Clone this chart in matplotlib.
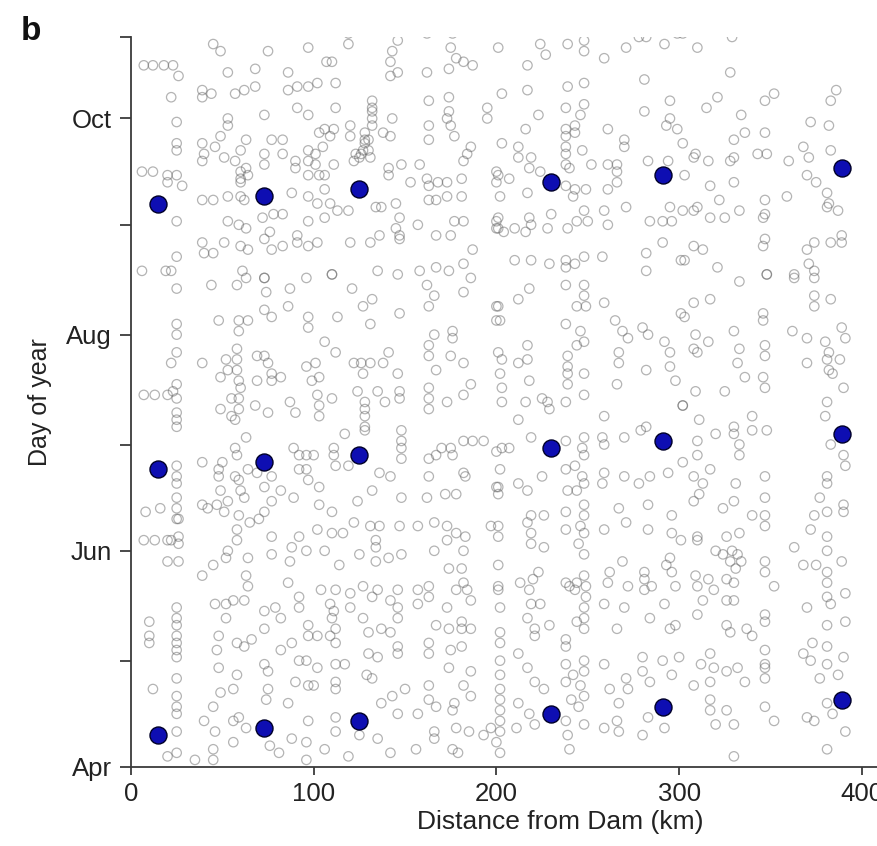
import matplotlib
matplotlib.use("Agg")
import matplotlib.pyplot as plt
from matplotlib.ticker import FixedLocator

plt.rcParams['font.family'] = ['Liberation Sans', 'DejaVu Sans']

# day-of-year tick marks (labelled every second month)
month_days = [91, 152, 213, 274]
month_labels = ['Apr', 'Jun', 'Aug', 'Oct']
minor_days = [121, 182, 244, 297]
km_ticks = [0, 100, 200, 300, 400]

# mean dates at each site (blue dots): spring, summer, autumn
site_km = [15, 73, 125, 230, 291, 389]
spring_day = [100, 102, 104, 106, 108, 110]
summer_day = [175, 177, 179, 181, 183, 185]
autumn_day = [250, 252, 254, 256, 258, 260]

gray_late = [
    (7, 289), (12, 289), (18, 289), (23, 289), (26, 286), (45, 295), (49, 293), (75, 293), (97, 294),
    (53, 287), (68, 288), (86, 287), (22, 280), (39, 282), (39, 280), (44, 281), (57, 281), (62, 282),
    (68, 283), (86, 282), (91, 283), (97, 283), (25, 273), (53, 274), (53, 272), (73, 275), (91, 277),
    (97, 275), (25, 267), (25, 265), (39, 267), (46, 266), (49, 269), (40, 264), (39, 262), (51, 263),
    (57, 262), (60, 265), (63, 268), (63, 260), (64, 258), (60, 259), (60, 257), (60, 256), (73, 264),
    (77, 268), (83, 268), (83, 264), (73, 261), (90, 262), (90, 260), (97, 265), (97, 262), (97, 258),
    (6, 259), (12, 259), (20, 258), (20, 256), (25, 258), (28, 255), (39, 251), (45, 251), (53, 252),
    (60, 252), (62, 251), (88, 253), (97, 252), (25, 245), (53, 245), (59, 244), (63, 243), (72, 246),
    (78, 247), (83, 247), (73, 240), (76, 242), (91, 241), (97, 245), (39, 239), (40, 236), (45, 236),
    (51, 239), (60, 238), (64, 237), (77, 237), (83, 238), (91, 239), (97, 238), (25, 235), (6, 231),
    (19, 231), (22, 231), (61, 231), (73, 229),
    (119, 298), (119, 295), (146, 296), (162, 298), (176, 298), (107, 290), (110, 290), (142, 290),
    (143, 293), (175, 294), (178, 291), (182, 290), (187, 289), (174, 288), (102, 284), (112, 284),
    (142, 286), (146, 287), (162, 287), (132, 279), (132, 277), (132, 276), (132, 274), (132, 272),
    (112, 277), (143, 274), (163, 279), (174, 280), (174, 276), (173, 274), (175, 272), (195, 277),
    (195, 274), (106, 271), (111, 271), (109, 269), (103, 270), (120, 272), (120, 269), (128, 270),
    (128, 268), (128, 267), (127, 265), (126, 264), (125, 263), (123, 264), (122, 262), (130, 268),
    (130, 265), (131, 263), (138, 270), (142, 269), (163, 272), (163, 268), (177, 269), (186, 266),
    (184, 264), (182, 262), (101, 264), (105, 266), (111, 261), (101, 261), (106, 258), (103, 258),
    (141, 260), (141, 258), (148, 261), (153, 256), (158, 261), (162, 257), (163, 255), (168, 256),
    (173, 256), (181, 257), (200, 259), (200, 256), (106, 254), (102, 250), (109, 250), (106, 246),
    (113, 248), (119, 248), (134, 249), (137, 249), (145, 250), (147, 246), (145, 243), (147, 241),
    (147, 240), (157, 244), (167, 241), (175, 241), (177, 245), (182, 245), (163, 251), (167, 251),
    (173, 252), (181, 252), (102, 239), (120, 239), (131, 239), (136, 241), (187, 237), (110, 230),
    (135, 231), (146, 230), (158, 231), (167, 232), (174, 231), (182, 233), (200, 245), (200, 243),
    (201, 294), (212, 299), (224, 295), (227, 292), (239, 295), (248, 296), (248, 293), (259, 291),
    (271, 294), (278, 297), (282, 297), (292, 295), (299, 298), (217, 289), (203, 281), (217, 282),
    (239, 283), (248, 284), (281, 285), (295, 279), (223, 275), (216, 271), (238, 277), (248, 278),
    (246, 275), (238, 271), (243, 272), (243, 270), (238, 269), (261, 271), (281, 276), (295, 274),
    (293, 272), (299, 271), (238, 266), (238, 264), (247, 265), (238, 261), (240, 260), (203, 267),
    (212, 266), (212, 263), (270, 268), (270, 266), (252, 261), (261, 261), (266, 261), (266, 259),
    (219, 263), (218, 260), (224, 259), (217, 253), (201, 258), (207, 257), (202, 252), (283, 262),
    (294, 262), (238, 255), (243, 254), (242, 252), (249, 254), (261, 254), (266, 256), (230, 247),
    (248, 248), (259, 248), (271, 249), (218, 246), (219, 244), (201, 246), (201, 243), (204, 242),
    (210, 243), (216, 242), (228, 243), (239, 243), (244, 245), (250, 245), (261, 244), (284, 245),
    (291, 245), (296, 245), (295, 249), (302, 248), (210, 234), (219, 234), (229, 233), (238, 234),
    (243, 233), (248, 235), (258, 235), (238, 232), (282, 236), (291, 239), (301, 234), (282, 231),
    (302, 298), (310, 294), (329, 297), (328, 287), (381, 299), (315, 277), (321, 280), (334, 275),
    (347, 279), (352, 281), (386, 282), (383, 279), (372, 273), (382, 272), (383, 265), (330, 268),
    (336, 270), (347, 270), (343, 264), (348, 264), (360, 262), (302, 267), (309, 264), (308, 263),
    (316, 262), (328, 262), (330, 263), (368, 266), (371, 263), (303, 258), (317, 255), (330, 256),
    (370, 258), (375, 256), (381, 253), (382, 250), (381, 249), (387, 248), (359, 252), (310, 249),
    (308, 248), (317, 246), (325, 246), (322, 251), (333, 248), (347, 251), (347, 247), (346, 246),
    (308, 238), (313, 237), (303, 234), (321, 232), (346, 238), (347, 240), (348, 230), (370, 237),
    (374, 239), (371, 233), (374, 231), (383, 239), (389, 241), (389, 239), (363, 230),
]

gray_mid = [
    (25, 226), (44, 227), (58, 227), (63, 229), (73, 229), (74, 225), (87, 226), (96, 229),
    (25, 216), (25, 213), (25, 208), (22, 205), (39, 205), (48, 217), (59, 217), (64, 217),
    (59, 214), (73, 220), (77, 218), (86, 221), (97, 218), (97, 215), (58, 209), (58, 206),
    (52, 206), (53, 203), (69, 207), (73, 207), (75, 205), (77, 202), (77, 200), (82, 201),
    (96, 204), (99, 200), (49, 201), (58, 203), (59, 200), (60, 198), (69, 200), (55, 195),
    (59, 195), (59, 192), (7, 196), (13, 196), (20, 196), (23, 197), (25, 199), (25, 195),
    (25, 191), (25, 189), (25, 187), (49, 192), (55, 190), (57, 189), (68, 193), (75, 191),
    (87, 194), (90, 191), (63, 184), (57, 181), (58, 179), (50, 177), (39, 177), (25, 176),
    (25, 173), (25, 171), (25, 167), (25, 164), (25, 161), (48, 175), (48, 173), (49, 169),
    (47, 165), (53, 166), (51, 163), (57, 173), (59, 172), (60, 169), (62, 167), (59, 162),
    (64, 175), (69, 174), (89, 181), (92, 179), (96, 179), (92, 175), (96, 175), (97, 172),
    (82, 169), (77, 166), (89, 167), (73, 170), (77, 173), (8, 163), (16, 164), (39, 165),
    (42, 164), (73, 163), (70, 161),
    (110, 230), (121, 226), (132, 223), (127, 221), (113, 218), (131, 216), (147, 219), (162, 227),
    (166, 224), (163, 221), (182, 225), (186, 229), (200, 221), (200, 217), (106, 211), (112, 208),
    (122, 205), (126, 205), (131, 205), (138, 205), (141, 208), (103, 201), (101, 205), (127, 202),
    (135, 197), (146, 202), (147, 197), (147, 195), (139, 194), (166, 213), (163, 210), (163, 207),
    (167, 203), (163, 198), (163, 195), (163, 192), (176, 214), (176, 212), (175, 207), (182, 205),
    (186, 199), (182, 196), (173, 194), (102, 196), (110, 195), (103, 193), (103, 190), (124, 197),
    (128, 194), (128, 192), (128, 190), (128, 187), (128, 186), (117, 185), (148, 186), (148, 183),
    (148, 181), (148, 178), (136, 174), (142, 173), (111, 181), (111, 179), (112, 176), (119, 176),
    (100, 179), (163, 178), (167, 179), (170, 181), (175, 181), (176, 179), (182, 183), (187, 183),
    (193, 183), (182, 174), (183, 173), (178, 168), (163, 173), (162, 167), (172, 168), (148, 167),
    (132, 169), (124, 166), (110, 163), (103, 165), (103, 170), (200, 180), (200, 170),
    (201, 221), (202, 217), (201, 208), (203, 206), (202, 202), (203, 198), (212, 223), (218, 226),
    (217, 210), (217, 206), (212, 205), (218, 200), (238, 227), (248, 227), (248, 224), (244, 221),
    (249, 221), (238, 216), (246, 214), (248, 211), (244, 210), (239, 207), (239, 204), (239, 202),
    (239, 199), (248, 202), (248, 196), (238, 194), (259, 222), (265, 217), (269, 214), (272, 212),
    (267, 208), (267, 205), (266, 199), (259, 190), (280, 215), (283, 213), (292, 211), (295, 208),
    (295, 204), (282, 203), (298, 200), (301, 219), (302, 193), (203, 194), (216, 194), (225, 195),
    (228, 194), (229, 192), (212, 189), (203, 181), (207, 181), (219, 184), (238, 183), (248, 184),
    (247, 181), (248, 179), (258, 184), (259, 182), (270, 184), (279, 186), (282, 187), (202, 175),
    (225, 173), (238, 175), (243, 176), (247, 173), (259, 174), (270, 173), (278, 171), (284, 173),
    (294, 174), (201, 170), (201, 168), (212, 171), (217, 169), (239, 169), (244, 169), (248, 171),
    (258, 171), (248, 165), (219, 162), (226, 162), (238, 163), (248, 162), (267, 164), (283, 165),
    (296, 162),
    (333, 228), (348, 230), (363, 229), (374, 229), (374, 224), (374, 221), (383, 223), (308, 222),
    (317, 223), (303, 218), (309, 213), (308, 209), (310, 208), (316, 211), (330, 214), (346, 219),
    (346, 217), (347, 210), (347, 207), (333, 209), (332, 205), (336, 201), (346, 201), (347, 198),
    (362, 214), (370, 212), (370, 205), (380, 211), (382, 208), (381, 206), (382, 203), (389, 215),
    (391, 212), (388, 206), (384, 202), (390, 198), (309, 197), (325, 197), (302, 193), (311, 189),
    (320, 185), (330, 187), (330, 185), (340, 190), (340, 186), (348, 186), (333, 182), (333, 179),
    (381, 194), (380, 190), (383, 182), (390, 179), (391, 176), (310, 183), (310, 179), (302, 177),
    (308, 173), (313, 171), (317, 175), (311, 168), (308, 166), (324, 164), (330, 166), (331, 171),
    (347, 173), (347, 167), (340, 162), (347, 162), (381, 173), (381, 171), (377, 167), (374, 162),
    (381, 163), (390, 165), (390, 163),
]

gray_early = [
    (7, 155), (13, 155), (20, 155), (22, 155), (26, 154), (26, 156), (26, 161), (20, 149), (26, 149),
    (39, 145), (45, 148), (58, 158), (58, 155), (65, 160), (53, 152), (52, 150), (64, 150), (63, 145),
    (77, 156), (77, 151), (88, 153), (87, 149), (86, 143), (92, 156), (96, 152), (25, 136), (25, 133),
    (25, 131), (25, 128), (25, 126), (25, 124), (25, 122), (10, 132), (10, 128), (10, 126), (46, 137),
    (52, 137), (56, 138), (62, 138), (64, 142), (52, 133), (48, 128), (47, 124), (58, 126), (62, 125),
    (73, 135), (79, 136), (82, 133), (73, 130), (66, 127), (73, 120), (75, 118), (82, 124), (88, 126),
    (92, 136), (92, 139), (97, 131), (97, 128), (92, 121), (96, 121), (90, 115), (97, 114), (25, 116),
    (25, 111), (25, 108), (25, 106), (25, 101), (25, 95), (12, 113), (20, 94), (48, 119), (58, 117),
    (49, 112), (56, 113), (45, 108), (56, 104), (59, 105), (46, 101), (40, 104), (35, 93), (45, 96),
    (45, 93), (56, 98), (75, 113), (74, 110), (86, 109), (63, 102), (76, 97), (81, 95), (88, 99),
    (97, 104), (96, 98), (96, 93),
    (102, 158), (110, 157), (116, 157), (122, 160), (131, 159), (136, 159), (147, 159), (157, 159),
    (166, 160), (173, 159), (183, 156), (197, 159), (106, 152), (114, 148), (125, 151), (134, 155),
    (134, 153), (134, 149), (141, 150), (148, 151), (166, 152), (173, 155), (178, 157), (182, 152),
    (174, 147), (181, 147), (104, 141), (112, 141), (120, 140), (127, 142), (132, 139), (135, 141),
    (146, 141), (157, 141), (163, 142), (163, 139), (178, 141), (182, 143), (184, 141), (186, 138),
    (109, 137), (111, 135), (110, 133), (112, 130), (102, 128), (109, 128), (112, 126), (120, 136),
    (127, 133), (142, 138), (146, 136), (146, 133), (157, 137), (173, 136), (130, 129), (137, 130),
    (142, 129), (146, 125), (146, 123), (130, 123), (135, 122), (163, 126), (163, 123), (167, 131),
    (174, 130), (181, 132), (181, 130), (186, 130), (175, 124), (181, 125), (102, 119), (112, 120),
    (117, 120), (112, 115), (112, 113), (100, 114), (129, 117), (132, 116), (150, 113), (163, 114),
    (174, 119), (186, 118), (182, 114), (186, 111), (177, 109), (176, 107), (112, 105), (112, 101),
    (137, 109), (143, 111), (146, 106), (157, 106), (163, 110), (167, 108), (166, 101), (166, 99),
    (178, 102), (185, 101), (193, 100), (197, 102), (106, 96), (119, 94), (125, 100), (135, 99),
    (142, 95), (156, 96), (176, 96), (179, 95), (200, 98),
    (201, 159), (201, 156), (217, 160), (219, 157), (219, 154), (226, 153), (238, 158), (246, 159),
    (248, 157), (245, 154), (248, 151), (259, 158), (271, 160), (283, 158), (296, 157), (301, 155),
    (201, 148), (201, 142), (201, 141), (202, 136), (213, 143), (218, 141), (220, 144), (223, 146),
    (219, 137), (224, 137), (238, 143), (240, 142), (244, 143), (248, 145), (249, 142), (249, 139),
    (243, 141), (248, 136), (262, 146), (261, 143), (269, 149), (272, 142), (259, 137), (270, 136),
    (281, 146), (281, 144), (281, 141), (285, 142), (293, 148), (296, 146), (295, 150), (298, 142),
    (292, 137), (202, 129), (202, 126), (202, 121), (202, 117), (202, 113), (202, 110), (202, 107),
    (202, 104), (202, 101), (202, 95), (217, 133), (221, 130), (221, 128), (229, 131), (238, 127),
    (238, 125), (244, 132), (248, 130), (248, 133), (266, 130), (284, 133), (295, 130), (298, 131),
    (212, 123), (217, 119), (221, 115), (226, 113), (238, 120), (238, 115), (242, 117), (248, 121),
    (248, 118), (246, 114), (248, 111), (259, 120), (262, 113), (267, 109), (271, 116), (272, 113),
    (280, 122), (280, 118), (284, 115), (291, 121), (296, 117), (300, 122), (212, 109), (218, 106),
    (221, 103), (211, 102), (241, 110), (238, 104), (239, 100), (240, 96), (245, 108), (248, 103),
    (259, 102), (266, 104), (267, 101), (280, 100), (292, 102), (283, 105),
    (310, 156), (310, 155), (326, 156), (333, 157), (320, 152), (324, 151), (329, 152), (332, 151),
    (328, 149), (334, 149), (331, 147), (347, 159), (347, 149), (347, 146), (363, 153), (372, 158),
    (381, 156), (381, 152), (389, 149), (381, 146), (381, 143), (368, 148), (375, 148), (309, 145),
    (310, 142), (316, 144), (313, 138), (319, 141), (326, 144), (330, 143), (326, 138), (330, 138),
    (352, 142), (381, 139), (383, 137), (391, 140), (370, 136), (310, 134), (326, 131), (328, 129),
    (337, 130), (340, 128), (347, 134), (347, 132), (381, 131), (391, 132), (317, 123), (312, 120),
    (319, 119), (326, 118), (332, 119), (308, 114), (317, 115), (336, 115), (347, 124), (347, 120),
    (347, 119), (347, 116), (368, 123), (373, 126), (372, 121), (381, 125), (381, 120), (390, 122),
    (387, 117), (377, 116), (317, 110), (317, 107), (326, 107), (320, 103), (330, 103), (347, 108),
    (352, 104), (370, 105), (374, 104), (381, 109), (384, 106), (391, 101), (381, 96), (330, 94),
]

fig = plt.figure(figsize=(8.78, 8.46), dpi=100)
# the original panel is cropped on the right: the axis runs on past 400 km
ax = fig.add_axes([0.1492, 0.0934, 0.978, 0.8629])

for pts in [gray_late, gray_mid, gray_early]:
    km = [p[0] for p in pts]
    day = [p[1] for p in pts]
    ax.scatter(km, day, s=46, facecolors='none', edgecolors='#626262',
               linewidths=0.9, alpha=0.48, zorder=2)

for days in [spring_day, summer_day, autumn_day]:
    ax.scatter(site_km, days, s=150, color='#0e0eb2', edgecolors='#000028',
               linewidths=1.0, zorder=3)

ax.set_xlim(0, 470)
ax.set_ylim(91, 297)

ax.set_xticks(km_ticks)
ax.set_yticks(month_days)
ax.set_yticklabels(month_labels)
ax.yaxis.set_minor_locator(FixedLocator(minor_days))

for side in ['top', 'right']:
    ax.spines[side].set_visible(False)
for side in ['left', 'bottom']:
    ax.spines[side].set_color('#3a3a3a')
    ax.spines[side].set_linewidth(1.3)

ax.tick_params(axis='both', which='both', direction='out', color='#3a3a3a',
               width=1.3, labelsize=18.5, labelcolor='#222222')
ax.tick_params(axis='y', which='major', length=8, pad=6)
ax.tick_params(axis='y', which='minor', length=8)
ax.tick_params(axis='x', which='major', length=6, pad=5)

ax.set_xlabel('Distance from Dam (km)', fontsize=19, color='#222222', labelpad=3)
ax.set_ylabel('Day of year', fontsize=18, color='#222222', labelpad=10)

fig.text(0.024, 0.953, 'b', fontsize=24, fontweight='bold', color='#111111')

fig.savefig('out.png', dpi=100)
